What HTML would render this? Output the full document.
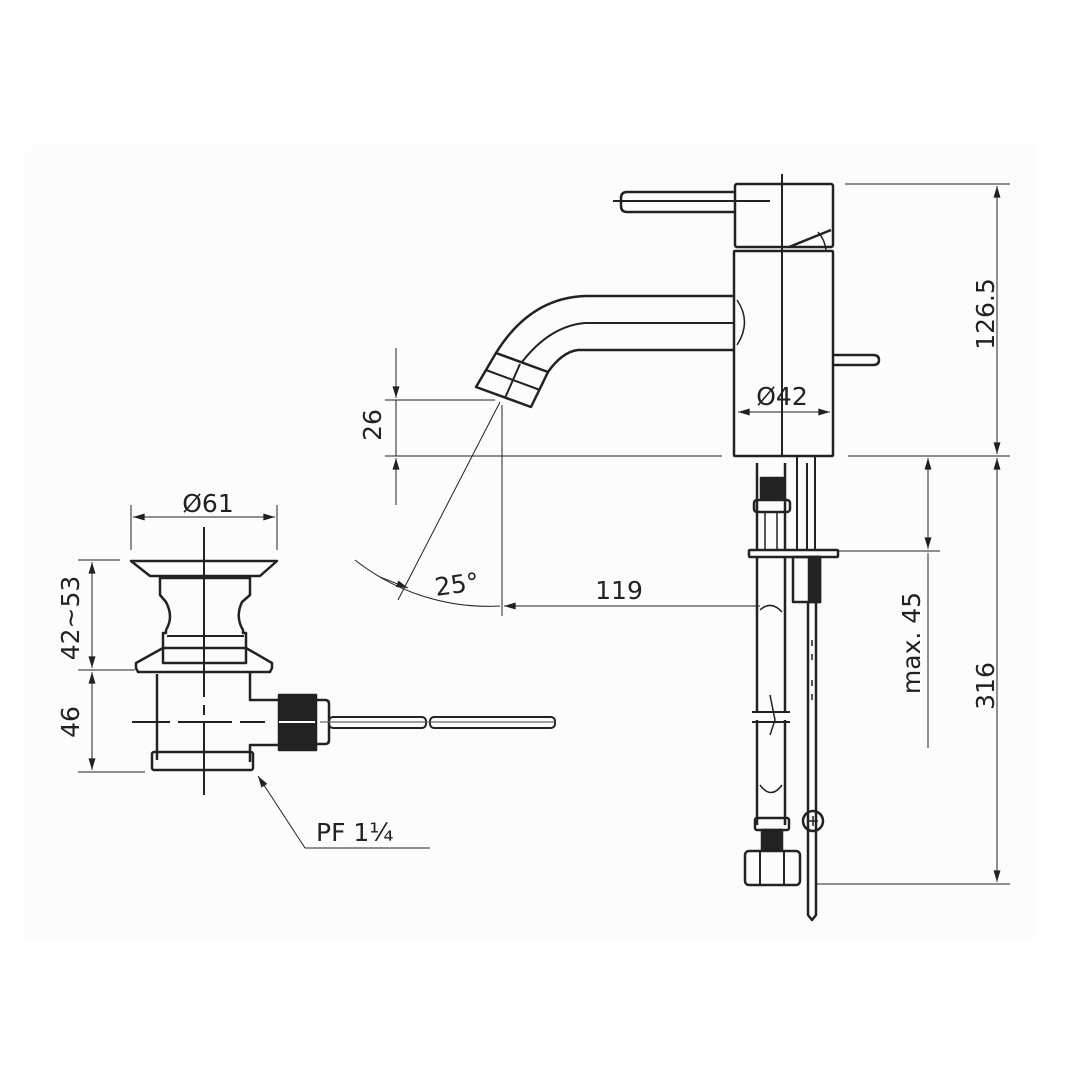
<!DOCTYPE html>
<html><head><style>
html,body{margin:0;padding:0;background:#fff;}
svg{display:block}
text{font-family:"DejaVu Sans","Liberation Sans",sans-serif;fill:#222}
</style></head><body>
<svg width="1090" height="1090" viewBox="0 0 1090 1090" xmlns="http://www.w3.org/2000/svg">
<defs>
<marker id="a" viewBox="0 0 10 6" refX="10" refY="3" markerWidth="18" markerHeight="7" markerUnits="userSpaceOnUse" orient="auto-start-reverse"><path d="M0,0 L10,3 L0,6 z" fill="#222"/></marker>
</defs>
<rect x="25" y="145" width="1010" height="795" fill="#fcfcfc"/>
<g fill="none" stroke="#222" stroke-width="1" >
<line x1="845" y1="184" x2="1010" y2="184"/>
<line x1="848" y1="456" x2="1010" y2="456"/>
<line x1="385" y1="456" x2="722" y2="456"/>
<line x1="385" y1="400" x2="495" y2="400"/>
<line x1="997" y1="186" x2="997" y2="454" marker-start="url(#a)" marker-end="url(#a)"/>
<line x1="997" y1="458" x2="997" y2="882" marker-start="url(#a)" marker-end="url(#a)"/>
<line x1="815" y1="884" x2="1010" y2="884"/>
<line x1="838" y1="551" x2="940" y2="551"/>
<line x1="928" y1="458" x2="928" y2="549" marker-start="url(#a)" marker-end="url(#a)"/>
<line x1="928" y1="553" x2="928" y2="748"/>
<line x1="396" y1="348" x2="396" y2="398" marker-end="url(#a)"/>
<line x1="396" y1="505" x2="396" y2="458" marker-end="url(#a)"/>
<line x1="396" y1="400" x2="396" y2="456"/>
<line x1="502" y1="405" x2="502" y2="616"/>
<line x1="500" y1="402" x2="398" y2="600"/>
<line x1="760" y1="606" x2="504" y2="606" marker-end="url(#a)"/>
<path d="M355,560 A215,215 0 0 0 500,606"/>
<line x1="380" y1="577" x2="408" y2="588" marker-end="url(#a)"/>
<line x1="738" y1="412" x2="830" y2="412" marker-start="url(#a)" marker-end="url(#a)"/>
<line x1="131" y1="505" x2="131" y2="550"/>
<line x1="277" y1="505" x2="277" y2="550"/>
<line x1="133" y1="517" x2="275" y2="517" marker-start="url(#a)" marker-end="url(#a)"/>
<line x1="78" y1="560" x2="120" y2="560"/>
<line x1="78" y1="670" x2="135" y2="670"/>
<line x1="78" y1="772" x2="145" y2="772"/>
<line x1="92" y1="562" x2="92" y2="668" marker-start="url(#a)" marker-end="url(#a)"/>
<line x1="92" y1="672" x2="92" y2="770" marker-start="url(#a)" marker-end="url(#a)"/>
<line x1="305" y1="848" x2="258" y2="776" marker-end="url(#a)"/>
<line x1="305" y1="848" x2="430" y2="848"/>
</g>
<g fill="none" stroke="#222" stroke-width="2.5" stroke-linejoin="round">
<rect x="735" y="184" width="98" height="63" rx="2"/>
<path d="M735,192 H627 Q621,192 621,198 V206 Q621,212 627,212 H735"/>
<path d="M789,247 L831,230" />
<path d="M818,232 Q825,240 826,250" stroke-width="1.5"/>
<rect x="734" y="251" width="99" height="205" rx="1"/>
<path d="M735,296 H585 Q530,298 496,353"/>
<path d="M735,350 H578 Q562,352 548,372"/>
<path d="M735,323 H585 Q550,326 522,362" stroke-width="2"/>
<path d="M496,353 L476,387 L531,407 L548,372 Z"/>
<path d="M486,370 L540,390" stroke-width="2"/>
<path d="M520,364 L505,398" stroke-width="2"/>
<path d="M737,300 Q752,322 737,345" stroke-width="1.5"/>
<path d="M833,355 H873 Q879,355 879,360 Q879,365 873,365 H833"/>
<rect x="749" y="550" width="89" height="7" rx="1"/>
<path d="M757,463 V550 M785,463 V550" />
<path d="M757,557 V712 M785,557 V712 M757,720 V825 M785,720 V825"/>
<rect x="761" y="478" width="22" height="20" fill="#222"/>
<rect x="754" y="500" width="36" height="12" rx="3"/>
<path d="M765,512 V550 M777,512 V550" stroke-width="1.5"/>
<path d="M760,610 Q771,600 782,612 M760,785 Q771,800 782,785" stroke-width="1.5"/>
<path d="M752,712 H790 M752,722 H790" stroke-width="2"/>
<path d="M770,695 L775,720 L770,735" stroke-width="1.5"/>
<rect x="755" y="818" width="34" height="12" rx="2"/>
<rect x="762" y="830" width="20" height="20" fill="#222"/>
<rect x="745" y="851" width="55" height="34" rx="4"/>
<path d="M760,851 V885 M784,851 V885" stroke-width="2"/>
<path d="M797,457 V550 M815,457 V550 M807,463 V550" stroke-width="2"/>
<rect x="793" y="557" width="27" height="45"/>
<rect x="809" y="557" width="11" height="45" fill="#222"/>
<path d="M808,602 V915 L812,920 L816,915 V557"/>
<path d="M812,640 V660 M812,680 V700" stroke-width="1.5" stroke-dasharray="6,8"/>
<circle cx="813" cy="821" r="10"/>
<path d="M808,821 H818 M813,816 V826" stroke-width="1.5"/>
<path d="M782,174 V455" stroke-width="2"/>
<path d="M613,201 H770" stroke-width="2"/>
<path d="M131,561 H277 L260,576 H150 Z"/>
<path d="M160,578 H250 V595 L242,602 Q235,617 243,630 V633 H246 V663 H163 V633 H166 V630 Q174,617 166,602 L160,595 Z"/>
<path d="M167,636 H244" stroke-width="2"/>
<path d="M163,648 H246 L272,663 V668 L270,672 H138 L136,668 V663 Z"/>
<path d="M157,674 V760 M250,673 V700 H278 M250,762 V745 H278"/>
<rect x="152" y="752" width="101" height="18" rx="2"/>
<rect x="279" y="695" width="37" height="55" fill="#222"/>
<path d="M316,700 H325 Q329,700 329,704 V740 Q329,744 325,744 H316"/>
<rect x="329" y="717" width="97" height="11" rx="4" stroke-width="2"/>
<rect x="430" y="717" width="125" height="11" rx="4" stroke-width="2"/>
<path d="M320,722 H555" stroke-width="1.2" stroke="#666"/>
<path d="M279,722 H315" stroke="#fff" stroke-width="2"/>
<path d="M204,527 V795" stroke-width="2" stroke-dasharray="170,8,10,8,90"/>
<path d="M132,722 H170 M178,722 H232 M240,722 H265" stroke-width="2"/>
</g>
<g font-size="25">
<text x="782" y="405" text-anchor="middle">Ø42</text>
<text x="208" y="512" text-anchor="middle">Ø61</text>
<text x="619" y="599" text-anchor="middle">119</text>
<text x="457" y="593" text-anchor="middle" transform="rotate(-8 457 585)">25°</text>
<text text-anchor="middle" transform="translate(381 425) rotate(-90)">26</text>
<text text-anchor="middle" transform="translate(994 314) rotate(-90)">126.5</text>
<text text-anchor="middle" transform="translate(994 686) rotate(-90)">316</text>
<text text-anchor="middle" transform="translate(920 643) rotate(-90)">max. 45</text>
<text text-anchor="middle" transform="translate(79 618) rotate(-90)">42~53</text>
<text text-anchor="middle" transform="translate(79 722) rotate(-90)">46</text>
<text x="316" y="841">PF 1¼</text>
</g>
</svg>
</body></html>
